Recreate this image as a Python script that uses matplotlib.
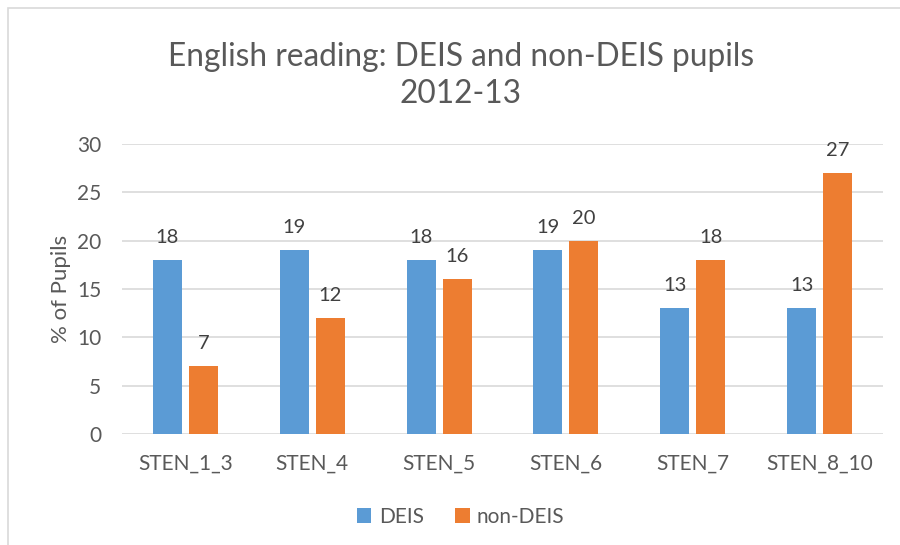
import matplotlib.pyplot as plt
import numpy as np
from matplotlib.patches import Rectangle

categories = ['STEN_1_3', 'STEN_4', 'STEN_5', 'STEN_6', 'STEN_7', 'STEN_8_10']
deis = [18, 19, 18, 19, 13, 13]
non_deis = [7, 12, 16, 20, 18, 27]

plt.rcParams['font.family'] = ['Lato', 'DejaVu Sans']
grey = '#595959'

fig = plt.figure(figsize=(9, 5.45), dpi=100)
ax = fig.add_axes([0.1356, 0.2037, 0.8455, 0.5321])

# chart border (only top and left visible in the reference)
fig.patches.append(Rectangle((8 / 900, -0.1), 1.2, (545 - 8) / 545 + 0.1,
                             transform=fig.transFigure, fill=False,
                             edgecolor='#d9d9d9', linewidth=1.2))

x = np.arange(len(categories))
w = 0.229
b1 = ax.bar(x - 0.142, deis, w, color='#5B9BD5', label='DEIS', zorder=3)
b2 = ax.bar(x + 0.142, non_deis, w, color='#ED7D31', label='non-DEIS', zorder=3)

for bars, vals in ((b1, deis), (b2, non_deis)):
    for r, v in zip(bars, vals):
        ax.annotate(str(v), (r.get_x() + r.get_width() / 2, v),
                    xytext=(0, 10), textcoords='offset points',
                    ha='center', va='bottom', fontsize=14.5, color='#404040')

ax.set_xlim(-0.5, len(categories) - 0.5)
ax.set_ylim(0, 30)
ax.set_yticks(range(0, 31, 5))
ax.set_xticks(x)
ax.set_xticklabels(categories)
ax.tick_params(axis='both', length=0, labelsize=15, colors=grey)
ax.tick_params(axis='x', pad=14)
ax.tick_params(axis='y', pad=15)
ax.grid(axis='y', color='#d9d9d9', linewidth=1.2, zorder=0)
for s in ax.spines.values():
    s.set_visible(False)

ax.set_ylabel('% of Pupils', fontsize=16, color=grey, labelpad=4)

fig.text(0.512, 0.862, 'English reading: DEIS and non-DEIS pupils\n2012-13',
         ha='center', va='center', fontsize=22.8, color=grey, linespacing=1.3)

ax.legend(loc='center', bbox_to_anchor=(0.445, -0.285), ncol=2, frameon=False,
          fontsize=15, labelcolor=grey, handlelength=0.7, handleheight=0.7,
          handletextpad=0.35, columnspacing=1.5)

fig.savefig('out.png', dpi=100)
